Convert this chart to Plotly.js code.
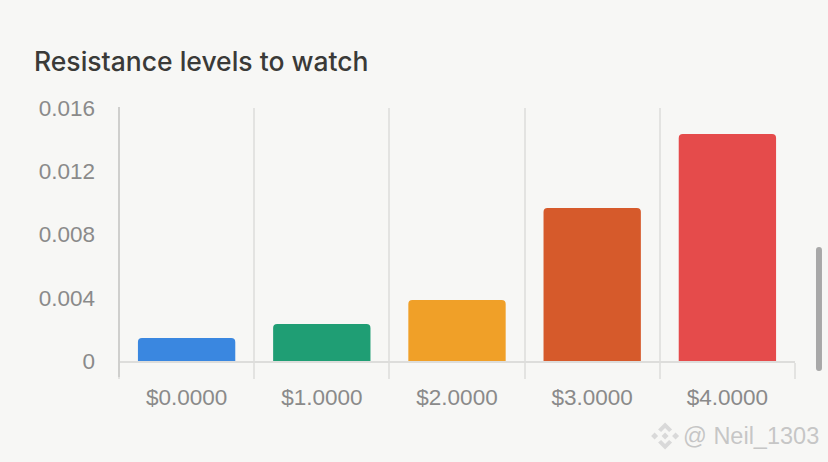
<!DOCTYPE html>
<html><head><meta charset="utf-8">
<script src="https://cdn.plot.ly/plotly-3.0.1.min.js"></script>
<style>html,body{margin:0;padding:0;background:#f7f7f5;overflow:hidden}</style>
</head><body><div id="chart" style="width:828px;height:462px"></div>
<script>
const categories = ["$0.0000","$1.0000","$2.0000","$3.0000","$4.0000"];
const values = [0.00145,0.00234,0.00386,0.00968,0.01436];
const barColors = ["#3a87e0","#1f9e74","#f0a028","#d65a2b","#e54b4b"];
const yTicks = [0,0.004,0.008,0.012,0.016];
const yTickLabels = ["0","0.004","0.008","0.012","0.016"];
const titleText = "Resistance levels to watch";
const watermarkText = "@ Neil_1303";
const W=828,H=462,L=118.5,R=795,T=108,B=361;
const px=x=>(x-L)/(R-L), py=y=>(B-y)/(B-T);
function logoPath(cx,cy){
  const a=(x,y,r)=>`M${px(x-r)} ${py(y)}L${px(x)} ${py(y-r)}L${px(x+r)} ${py(y)}L${px(x)} ${py(y+r)}Z`;
  return [a(cx,cy,3.5),a(cx-10.5,cy,3.5),a(cx+10.5,cy,3.5)].join("")+
    `M${px(cx-7)} ${py(cy-6.5)}L${px(cx)} ${py(cy-13.5)}L${px(cx+7)} ${py(cy-6.5)}L${px(cx+4)} ${py(cy-4)}L${px(cx)} ${py(cy-8)}L${px(cx-4)} ${py(cy-4)}Z`+
    `M${px(cx-7)} ${py(cy+6.5)}L${px(cx)} ${py(cy+13.5)}L${px(cx+7)} ${py(cy+6.5)}L${px(cx+4)} ${py(cy+4)}L${px(cx)} ${py(cy+8)}L${px(cx-4)} ${py(cy+4)}Z`;
}
Plotly.newPlot("chart",[{
  type:"bar",x:categories,y:values,width:0.72,
  marker:{color:barColors,line:{width:0}},
  hoverinfo:"x+y"
}],{
  width:W,height:H,
  paper_bgcolor:"#f7f7f5",plot_bgcolor:"#f7f7f5",
  margin:{l:L,r:W-R,t:T,b:H-B,pad:0},
  barcornerradius:4,
  showlegend:false,
  font:{family:"Liberation Sans, Arial, sans-serif",color:"#8a8a8a"},
  xaxis:{type:"category",tickson:"boundaries",ticks:"outside",ticklen:16,tickwidth:1.5,tickcolor:"#e3e3e1",
    ticklabelstandoff:15,
    showgrid:true,gridcolor:"#e3e3e1",gridwidth:1.5,showline:true,linecolor:"#dddddb",linewidth:1.5,
    tickfont:{size:22.5,color:"#8a8a8a"},zeroline:false,fixedrange:true},
  yaxis:{range:[0,0.016],tickvals:yTicks,ticktext:yTickLabels,ticks:"",showgrid:false,zeroline:false,
    ticklabelstandoff:23,
    showline:false,tickfont:{size:22.5,color:"#8a8a8a"},fixedrange:true},
  annotations:[
    {xref:"paper",yref:"paper",x:px(31),y:py(61),xanchor:"left",yanchor:"middle",showarrow:false,
     text:titleText,font:{family:"Inter, Roboto, sans-serif",size:26.5,weight:500,color:"#3a3a38"}},
    {xref:"paper",yref:"paper",x:px(681),y:py(436),xanchor:"left",yanchor:"middle",showarrow:false,
     text:watermarkText,font:{family:"Liberation Sans, Arial, sans-serif",size:23.5,color:"rgba(195,195,195,0.95)"}}
  ],
  shapes:[
    {type:"line",xref:"paper",yref:"paper",x0:px(118.5),x1:px(118.5),y0:py(107),y1:py(377),line:{color:"#cfcfcd",width:2},layer:"above"},
    {type:"path",xref:"paper",yref:"paper",layer:"above",
     path:`M${px(816)} ${py(250)}Q${px(816)} ${py(247)} ${px(819)} ${py(247)}Q${px(822)} ${py(247)} ${px(822)} ${py(250)}L${px(822)} ${py(368)}Q${px(822)} ${py(371)} ${px(819)} ${py(371)}Q${px(816)} ${py(371)} ${px(816)} ${py(368)}Z`,
     fillcolor:"#a8a8a8",line:{width:0}},
    {type:"path",xref:"paper",yref:"paper",layer:"above",path:logoPath(665,436),
     fillcolor:"rgba(215,215,215,0.95)",line:{width:0}}
  ]
},{displayModeBar:false});
</script></body></html>
